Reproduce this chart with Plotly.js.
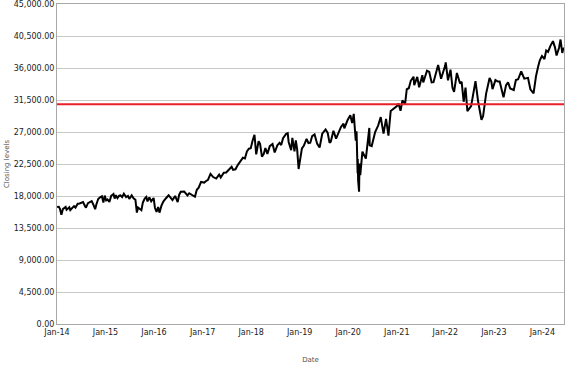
<!DOCTYPE html>
<html>
<head>
<meta charset="utf-8">
<script src="https://cdn.plot.ly/plotly-3.0.1.min.js"></script>
<style>html,body{margin:0;padding:0;background:#fff;}#chart{width:577px;height:367px;}</style>
</head>
<body>
<div id="chart"></div>
<script>
var dates = [
"2014-01-02","2014-01-15","2014-01-23","2014-02-03","2014-02-14","2014-02-28","2014-03-07","2014-03-14","2014-03-31","2014-04-04","2014-04-11","2014-04-25","2014-05-09","2014-05-20","2014-06-06","2014-06-20","2014-07-03","2014-07-16","2014-07-31","2014-08-07","2014-08-22","2014-09-05","2014-09-19","2014-10-01","2014-10-15","2014-10-24","2014-11-07","2014-11-21","2014-12-05","2014-12-16","2014-12-26",
"2015-01-06","2015-01-16","2015-01-30","2015-02-13","2015-03-02","2015-03-11","2015-03-20","2015-04-01","2015-04-14","2015-04-24","2015-05-06","2015-05-19","2015-06-05","2015-06-19","2015-06-29","2015-07-17","2015-07-31","2015-08-14","2015-08-25","2015-09-03","2015-09-28","2015-10-09","2015-10-23","2015-11-04","2015-11-13","2015-11-27","2015-12-11","2015-12-29",
"2016-01-08","2016-01-20","2016-02-01","2016-02-11","2016-02-26","2016-03-11","2016-03-31","2016-04-20","2016-05-06","2016-05-19","2016-06-08","2016-06-27","2016-07-08","2016-07-20","2016-08-15","2016-09-09","2016-09-22","2016-10-14","2016-11-04","2016-11-18","2016-12-02","2016-12-20",
"2017-01-13","2017-01-25","2017-02-10","2017-03-01","2017-03-21","2017-04-13","2017-05-05","2017-05-17","2017-06-09","2017-06-27","2017-07-14","2017-08-07","2017-08-18","2017-09-05","2017-09-22","2017-10-13","2017-10-31","2017-11-15","2017-11-30","2017-12-15","2017-12-29",
"2018-01-12","2018-01-26","2018-02-08","2018-02-26","2018-03-09","2018-03-23","2018-04-06","2018-04-18","2018-05-03","2018-05-21","2018-06-11","2018-06-27","2018-07-17","2018-08-03","2018-08-15","2018-08-29","2018-09-21","2018-10-03","2018-10-10","2018-10-29","2018-11-07","2018-11-23","2018-12-03","2018-12-13","2018-12-24",
"2019-01-04","2019-01-18","2019-02-01","2019-02-22","2019-03-08","2019-03-22","2019-04-05","2019-04-23","2019-05-13","2019-05-31","2019-06-20","2019-07-15","2019-07-31","2019-08-14","2019-08-23","2019-09-12","2019-10-02","2019-10-18","2019-11-07","2019-11-27","2019-12-03","2019-12-27",
"2020-01-17","2020-01-31","2020-02-12","2020-02-27","2020-03-04","2020-03-12","2020-03-13","2020-03-16","2020-03-23","2020-03-26","2020-04-01","2020-04-17","2020-05-13","2020-06-08","2020-06-11","2020-06-26","2020-07-22","2020-08-14","2020-09-02","2020-09-23","2020-10-12","2020-10-30","2020-11-16","2020-12-04","2020-12-31",
"2021-01-14","2021-01-29","2021-02-12","2021-03-04","2021-03-17","2021-04-01","2021-04-16","2021-05-07","2021-05-12","2021-06-04","2021-06-18","2021-07-12","2021-07-19","2021-08-16","2021-09-02","2021-09-20","2021-10-04","2021-10-29","2021-11-08","2021-11-30","2021-12-17","2021-12-31",
"2022-01-04","2022-01-21","2022-02-09","2022-02-24","2022-03-08","2022-03-29","2022-04-22","2022-05-04","2022-05-19","2022-06-02","2022-06-16","2022-07-14","2022-08-16","2022-09-06","2022-09-30","2022-10-12","2022-11-04","2022-11-30","2022-12-13","2022-12-22",
"2023-01-13","2023-01-31","2023-02-14","2023-03-02","2023-03-15","2023-04-03","2023-04-18","2023-05-04","2023-05-31","2023-06-16","2023-07-03","2023-07-26","2023-08-18","2023-09-15","2023-10-03","2023-10-27","2023-11-14","2023-12-01","2023-12-13","2023-12-29",
"2024-01-17","2024-01-30","2024-02-13","2024-03-01","2024-03-21","2024-04-05","2024-04-17","2024-05-06","2024-05-17","2024-05-30","2024-06-07","2024-06-12"
];
var closingLevels = [
16441,16482,16197,15373,16154,16322,16453,16066,16458,16413,16027,16361,16583,16374,16924,16948,17068,17138,16563,16368,17001,17138,17280,16804,16142,16805,17573,17810,17958,17068,18053,
17371,17511,17165,18019,18288,17635,18128,17698,18036,18080,17841,18312,17849,18016,17596,18086,17690,17477,15666,16374,16001,17084,17646,17867,17245,17798,17265,17720,
16347,15766,16449,15660,16640,17213,17685,18096,17740,17436,18005,17140,18147,18595,18636,18085,18392,18138,17888,18868,19171,19974,
19885,20068,20269,21115,20669,20453,21007,20606,21272,21310,21638,22118,21675,21753,22350,22871,23377,23271,24272,24651,24719,
25803,26617,23860,25709,25336,23533,23933,24748,23930,25013,25322,24118,25120,25463,25162,26124,26743,26828,25599,24443,26180,24286,25826,24597,21792,
23433,24706,25064,26031,25450,25502,26425,26656,25324,24815,26753,27359,26864,25479,25628,27182,26078,26770,27674,28164,27503,28645,
29348,28256,29551,25767,27091,21200,23185,20189,18592,22552,20943,24242,23248,27572,25128,25016,27005,27931,29100,26763,28838,26502,29950,30218,30606,
30991,29983,31458,30924,33015,33153,34200,34778,33587,34756,33291,34996,33962,35626,35443,33970,34002,35820,36432,34484,35365,36338,
36800,34265,35768,33224,32632,35294,33811,34061,31253,33248,29927,30630,34152,31146,28725,29210,32403,34589,34108,33027,
34303,34086,34089,33004,31874,33601,33977,33128,32908,34299,34418,35520,34500,34618,33002,32417,34828,36245,37090,37690,
37266,38467,38273,39087,39781,38904,37753,38852,40003,38112,38799,38712
];
var referenceLevel = 30900;
var xTickVals = ["2014-01-01","2015-01-01","2016-01-01","2017-01-01","2018-01-01","2019-01-01","2020-01-01","2021-01-01","2022-01-01","2023-01-01","2024-01-01"];
var xTickText = ["Jan-14","Jan-15","Jan-16","Jan-17","Jan-18","Jan-19","Jan-20","Jan-21","Jan-22","Jan-23","Jan-24"];
var yTickVals = [0,4500,9000,13500,18000,22500,27000,31500,36000,40500,45000];

var font = "DejaVu Sans, Verdana, sans-serif";
var traces = [{
  x: dates, y: closingLevels, type: "scatter", mode: "lines",
  line: {color: "#000000", width: 2}, hoverinfo: "skip"
}];
var layout = {
  width: 577, height: 367,
  margin: {l: 57, r: 13, t: 4, b: 43},
  paper_bgcolor: "#ffffff", plot_bgcolor: "#ffffff",
  showlegend: false,
  font: {family: font, size: 8, color: "#333333"},
  xaxis: {
    type: "date", range: ["2014-01-01", "2024-06-12"],
    tickvals: xTickVals, ticktext: xTickText,
    showgrid: false, zeroline: false,
    showline: true, linecolor: "#a8a8a8", linewidth: 1, mirror: true,
    ticks: "", ticklabeloverflow: "allow",
    tickfont: {family: font, size: 8, color: "#222222"},
    title: {text: "Date", font: {family: font, size: 7, color: "#555555"}, standoff: 21}
  },
  yaxis: {
    range: [0, 45000], tickvals: yTickVals, tickformat: ",.2f",
    showgrid: true, gridcolor: "#c8c8c8", gridwidth: 1, zeroline: false,
    showline: true, linecolor: "#a8a8a8", linewidth: 1, mirror: true,
    ticks: "", ticklabeloverflow: "allow",
    tickfont: {family: font, size: 8, color: "#222222"},
    title: {text: "Closing levels", font: {family: font, size: 7, color: "#555555"}, standoff: 3}
  },
  shapes: [{
    type: "line", xref: "paper", x0: 0, x1: 1, yref: "y", y0: referenceLevel, y1: referenceLevel,
    line: {color: "#e8202a", width: 2}
  }]
};
Plotly.newPlot("chart", traces, layout, {displayModeBar: false, staticPlot: true});
</script>
</body>
</html>
